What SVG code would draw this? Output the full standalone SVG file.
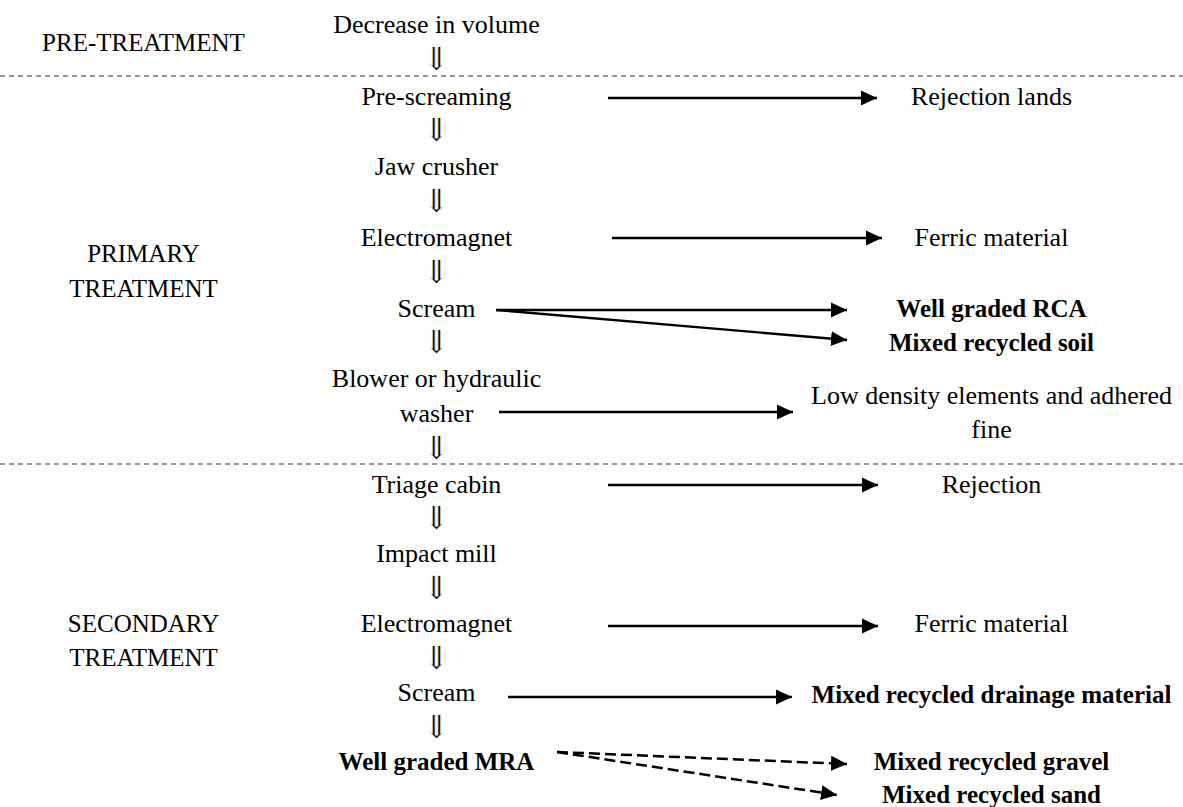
<svg xmlns="http://www.w3.org/2000/svg" width="1183" height="807" viewBox="0 0 1183 807">
<defs>
<marker id="ah" markerUnits="userSpaceOnUse" markerWidth="17" markerHeight="17" refX="16" refY="8" orient="auto" viewBox="0 0 17 17">
<path d="M0,0.5 L16,8 L0,15.5 z" fill="#000"/>
</marker>
<style>
text{font-family:"Liberation Serif","DejaVu Serif",serif;fill:#000;}
.c{font-size:26px;text-anchor:middle;}
.l{font-size:25px;text-anchor:middle;}
.b{font-size:25px;font-weight:bold;text-anchor:middle;}
.d{font-size:32px;text-anchor:middle;fill:#000;stroke:#fff;stroke-width:0.5;}
.sep{stroke:#333;stroke-width:1.2;stroke-dasharray:5 4;fill:none;}
.arr{stroke:#000;stroke-width:2.3;fill:none;marker-end:url(#ah);}
.darr{stroke:#000;stroke-width:2.5;fill:none;stroke-dasharray:11 5;marker-end:url(#ah);}
</style>
</defs>
<rect width="1183" height="807" fill="#fff"/>
<g id="separators">
<line class="sep" x1="0" y1="76" x2="1183" y2="76"/>
<line class="sep" x1="0" y1="464" x2="1183" y2="464"/>
</g>
<g id="phases">
<g id="pre-treatment"><text class="l" x="143.5" y="51">PRE-TREATMENT</text></g>
<g id="primary-treatment"><text class="l" x="143.5" y="262">PRIMARY</text><text class="l" x="143.5" y="297">TREATMENT</text></g>
<g id="secondary-treatment"><text class="l" x="143.5" y="632">SECONDARY</text><text class="l" x="143.5" y="666">TREATMENT</text></g>
</g>
<g id="steps">
<g id="decrease"><text class="c" x="436.5" y="33">Decrease in volume</text></g>
<g id="prescreaming"><text class="c" x="436.5" y="105">Pre-screaming</text></g>
<g id="jaw"><text class="c" x="436.5" y="175">Jaw crusher</text></g>
<g id="electromagnet1"><text class="c" x="436.5" y="246">Electromagnet</text></g>
<g id="scream1"><text class="c" x="436.5" y="317">Scream</text></g>
<g id="blower"><text class="c" x="436.5" y="387">Blower or hydraulic</text><text class="c" x="436.5" y="422">washer</text></g>
<g id="triage"><text class="c" x="436.5" y="493">Triage cabin</text></g>
<g id="impact"><text class="c" x="436.5" y="562">Impact mill</text></g>
<g id="electromagnet2"><text class="c" x="436.5" y="632">Electromagnet</text></g>
<g id="scream2"><text class="c" x="436.5" y="701">Scream</text></g>
<g id="mra"><text class="b" x="436.5" y="770">Well graded MRA</text></g>
</g>
<g id="down-arrows">
<text class="d" x="436.5" y="70">⇓</text>
<text class="d" x="436.5" y="141">⇓</text>
<text class="d" x="436.5" y="212">⇓</text>
<text class="d" x="436.5" y="283">⇓</text>
<text class="d" x="436.5" y="353">⇓</text>
<text class="d" x="436.5" y="459">⇓</text>
<text class="d" x="436.5" y="529">⇓</text>
<text class="d" x="436.5" y="599">⇓</text>
<text class="d" x="436.5" y="669">⇓</text>
<text class="d" x="436.5" y="738">⇓</text>
</g>
<g id="outputs">
<g id="rejection-lands"><text class="c" x="991.5" y="105">Rejection lands</text></g>
<g id="ferric1"><text class="c" x="991.5" y="246">Ferric material</text></g>
<g id="rca"><text class="b" x="991.5" y="317">Well graded RCA</text></g>
<g id="soil"><text class="b" x="991.5" y="351">Mixed recycled soil</text></g>
<g id="lowdensity"><text class="c" x="991.5" y="404">Low density elements and adhered</text><text class="c" x="991.5" y="438">fine</text></g>
<g id="rejection"><text class="c" x="991.5" y="493">Rejection</text></g>
<g id="ferric2"><text class="c" x="991.5" y="632">Ferric material</text></g>
<g id="drainage"><text class="b" x="991.5" y="703">Mixed recycled drainage material</text></g>
<g id="gravel"><text class="b" x="991.5" y="770">Mixed recycled gravel</text></g>
<g id="sand"><text class="b" x="991.5" y="803">Mixed recycled sand</text></g>
</g>
<g id="connectors">
<line class="arr" x1="608" y1="98" x2="877" y2="98"/>
<line class="arr" x1="612" y1="238" x2="882" y2="238"/>
<line class="arr" x1="496" y1="310" x2="847" y2="310"/>
<line class="arr" x1="496" y1="310" x2="847" y2="340"/>
<line class="arr" x1="499" y1="412" x2="793" y2="412"/>
<line class="arr" x1="608" y1="485" x2="878" y2="485"/>
<line class="arr" x1="608" y1="626" x2="878" y2="626"/>
<line class="arr" x1="508" y1="697" x2="792" y2="697"/>
<line class="darr" x1="557" y1="752" x2="847" y2="764"/>
<line class="darr" x1="557" y1="752" x2="837" y2="795"/>
</g>
</svg>
